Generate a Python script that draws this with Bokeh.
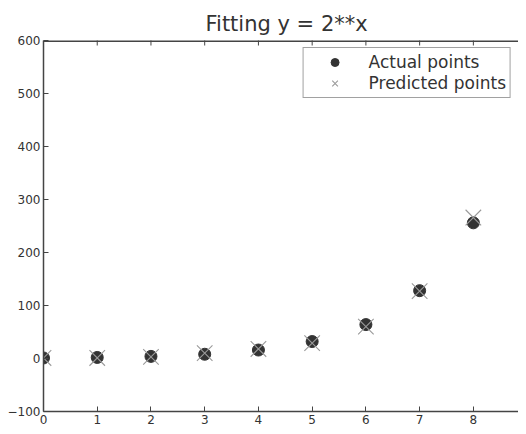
import math
from bokeh.plotting import figure
from bokeh.models import Range1d, FixedTicker, LinearAxis, Legend, LegendItem, Title, Span
from bokeh.embed import file_html
from bokeh.resources import INLINE

# data
x_vals = [0, 1, 2, 3, 4, 5, 6, 7, 8, 9]
actual = [1, 2, 4, 8, 16, 32, 64, 128, 256, 512]
predicted = [1, 1, 3, 10, 18, 29, 60, 127, 266, 510]
x_ticks = [0, 1, 2, 3, 4, 5, 6, 7, 8]
y_ticks = [-100, 0, 100, 200, 300, 400, 500, 600]
x_min, x_max = 0, 8.84
y_min, y_max = -100, 600

FONT = "DejaVu Sans"
TXT = "#333333"
AX = "#444444"

p = figure(width=518, height=426, output_backend="svg", toolbar_location=None,
           x_range=Range1d(x_min, x_max), y_range=Range1d(y_min, y_max),
           x_axis_location=None, y_axis_location=None,
           min_border_left=43, min_border_right=0, min_border_top=40, min_border_bottom=14)
p.background_fill_color = "white"
p.border_fill_color = "white"
p.outline_line_color = None
p.xgrid.visible = False
p.ygrid.visible = False

title = Title(text="Fitting y = 2**x", align="left", offset=162, text_font=FONT,
              text_font_size="21px", text_font_style="normal", text_color=TXT,
              standoff=10)
p.add_layout(title, "above")


def style_axis(ax):
    ax.axis_line_color = AX
    ax.axis_line_width = 1.5
    ax.major_tick_line_color = AX
    ax.major_tick_in = 5
    ax.major_tick_out = 0
    ax.minor_tick_line_color = None
    ax.major_label_text_font = FONT
    ax.major_label_text_font_size = "12px"
    ax.major_label_text_color = TXT
    ax.major_label_standoff = 3


xb = LinearAxis(ticker=FixedTicker(ticks=x_ticks))
style_axis(xb)
p.add_layout(xb, "below")

yl = LinearAxis(ticker=FixedTicker(ticks=y_ticks))
style_axis(yl)
p.add_layout(yl, "left")

# top spine and its inward ticks
p.add_layout(Span(location=y_max, dimension="width", line_color=AX, line_width=3))
p.scatter(x_ticks[1:], [y_max] * len(x_ticks[1:]), marker="dash", angle=math.pi / 2,
          size=10, line_color=AX, line_width=1)

r_act = p.scatter(x_vals, actual, marker="circle", size=12,
                  fill_color="#333333", line_color="#333333")
r_pred = p.scatter(x_vals, predicted, marker="x", size=22,
                   line_color="#9a9a9a", line_width=1.1)

legend = Legend(items=[LegendItem(label="Actual points", renderers=[r_act]),
                       LegendItem(label="Predicted points", renderers=[r_pred])],
                location="top_right", margin=7, padding=4, spacing=1,
                glyph_width=54, glyph_height=20, label_height=20, label_standoff=7,
                label_text_font=FONT, label_text_font_size="17px",
                label_text_color=TXT,
                border_line_color=AX, border_line_width=1,
                background_fill_color="white", background_fill_alpha=1)
p.add_layout(legend, "center")

open("out.html", "w").write(file_html(p, INLINE))
